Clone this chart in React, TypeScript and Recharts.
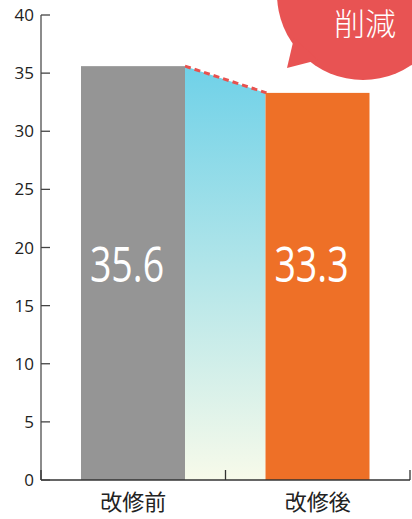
import React from "react";
import { BarChart, Bar, XAxis, YAxis } from "recharts";

const categories = ["改修前", "改修後"];
const values = [35.6, 33.3];
const yTicks = [0, 5, 10, 15, 20, 25, 30, 35, 40];
const barColors = ["#959595", "#ee7027"];
const badgeText = "削減";

const W = 412;
const H = 519;
const MARGIN = { top: 15, right: 2, left: 0, bottom: 0 };
const Y_W = 41;
const X_H = 39;
const BAR_SIZE = 104;
const BAND = (W - MARGIN.left - MARGIN.right - Y_W) / categories.length;
const LABEL_AT = 17; // value level where the big number sits

const data = categories.map((name, i) => ({
  name,
  value: values[i],
  next: values[i + 1],
}));

const BarShape = (props: any) => {
  const { x, y, width, height, payload, index } = props;
  const base = y + height;
  const unit = height / payload.value;
  const right = x + width;
  const nx = x + BAND;
  const hasNext = payload.next !== undefined;
  const ny = hasNext ? base - payload.next * unit : y;
  return (
    <g>
      <defs>
        <linearGradient id="bridge" x1="0" y1="0" x2="0" y2="1">
          <stop offset="0%" stopColor="#6fd1e8" />
          <stop offset="100%" stopColor="#f7faea" />
        </linearGradient>
      </defs>
      {hasNext && (
        <>
          <polygon
            points={`${right},${y} ${nx},${ny} ${nx},${base} ${right},${base}`}
            fill="url(#bridge)"
          />
          <line
            x1={right}
            y1={y}
            x2={nx + 1}
            y2={ny}
            stroke="#e8524f"
            strokeWidth={3}
            strokeDasharray="6 4"
          />
        </>
      )}
      <rect x={x} y={y} width={width} height={height} fill={barColors[index]} />
      <text
        transform={`translate(${x + width / 2 - 6},${base - LABEL_AT * unit}) scale(0.75,1)`}
        textAnchor="middle"
        fill="#fff"
        fontSize={50}
        fontWeight={400}
        fontFamily="'Open Sans', 'Noto Sans', sans-serif"
      >
        {payload.value.toFixed(1)}
      </text>
    </g>
  );
};

const YTick = (props: any) => {
  const { x, y, payload } = props;
  return (
    <g>
      <line x1={x + 7} y1={y} x2={x + 16} y2={y} stroke="#444" strokeWidth={1.3} />
      <text
        x={x}
        y={y}
        dy="0.36em"
        textAnchor="end"
        fill="#222"
        fontSize={17}
        fontFamily="'Open Sans', 'Noto Sans', sans-serif"
      >
        {payload.value}
      </text>
    </g>
  );
};

const XTick = (props: any) => {
  const { x, y, payload, index } = props;
  const half = payload.offset || BAND / 2;
  return (
    <g>
      {index === 0 && (
        <line x1={x - half} y1={y} x2={x - half} y2={y - 10} stroke="#333" strokeWidth={1.3} />
      )}
      <line x1={x + half} y1={y} x2={x + half} y2={y - 10} stroke="#333" strokeWidth={1.3} />
      <text
        x={x}
        y={y + 30}
        textAnchor="middle"
        fill="#222"
        fontSize={22}
        fontFamily="'Noto Sans CJK JP', sans-serif"
      >
        {payload.value}
      </text>
    </g>
  );
};

export default function App() {
  return (
    <div style={{ position: "absolute", left: 0, top: 0, width: W, height: H }}>
      <BarChart width={W} height={H} data={data} margin={MARGIN} barCategoryGap={0}>
        <YAxis
          width={Y_W}
          domain={[0, 40]}
          ticks={yTicks}
          interval={0}
          tickLine={false}
          tickSize={0}
          tickMargin={7}
          axisLine={{ stroke: "#666", strokeWidth: 1.5 }}
          tick={<YTick />}
        />
        <XAxis
          dataKey="name"
          height={X_H}
          tickLine={false}
          tickSize={0}
          tickMargin={0}
          axisLine={{ stroke: "#333", strokeWidth: 1.5 }}
          tick={<XTick />}
        />
        <Bar dataKey="value" barSize={BAR_SIZE} shape={<BarShape />} isAnimationActive={false} />
      </BarChart>
      <svg
        width={W}
        height={H}
        style={{ position: "absolute", left: 0, top: 0, pointerEvents: "none" }}
      >
        <circle cx={363} cy={-6} r={86} fill="#e85353" />
        <polygon points="294,38 287,68 318,60" fill="#e85353" />
        <text
          x={365}
          y={35}
          textAnchor="middle"
          fill="#fff"
          fontSize={31}
          fontWeight={300}
          fontFamily="'Noto Sans CJK JP', sans-serif"
        >
          {badgeText}
        </text>
      </svg>
    </div>
  );
}
